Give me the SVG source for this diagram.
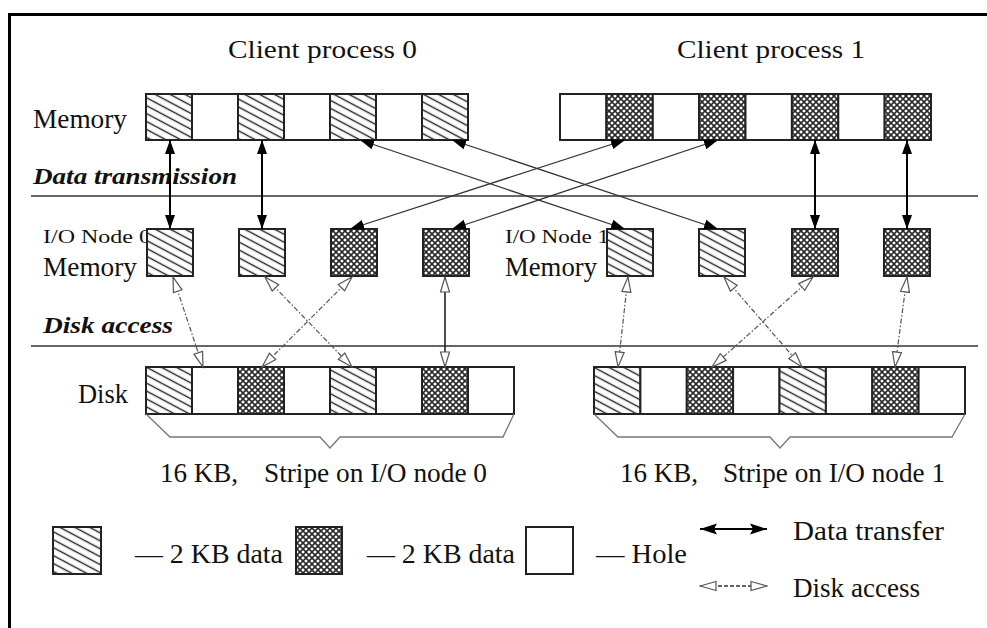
<svg xmlns="http://www.w3.org/2000/svg" width="987" height="628" viewBox="0 0 987 628">
<style>
text{font-family:"Liberation Serif","Times New Roman",serif;fill:#111}
.t24{font-size:25px}.t27{font-size:28px}.t26{font-size:27px}.t18{font-size:19px}
.bi{font-size:24px;font-weight:bold;font-style:italic}
.cell{stroke:#222;stroke-width:2}
.h{fill:url(#hatch)}.x{fill:url(#cross)}.e{fill:#fff}
.dt{stroke:#000;stroke-width:2;fill:none;marker-start:url(#af);marker-end:url(#af)}
.dd{stroke:#333;stroke-width:1.3;fill:none;marker-start:url(#af);marker-end:url(#af)}
.da{stroke:#555;stroke-width:1.2;fill:none;stroke-dasharray:5 2 1.5 2;marker-start:url(#ah);marker-end:url(#ah)}
.das{stroke:#222;stroke-width:1.6;fill:none;marker-start:url(#ah);marker-end:url(#ah)}
.sep{stroke:#333;stroke-width:1.5}
.brace{stroke:#777;stroke-width:1.3;fill:none}
</style>
<defs>
<pattern id="hatch" patternUnits="userSpaceOnUse" width="8" height="7" patternTransform="rotate(28)">
<rect width="8" height="7" fill="#fff"/>
<line x1="0" y1="3.5" x2="8" y2="3.5" stroke="#222" stroke-width="1.4"/>
</pattern>
<pattern id="cross" patternUnits="userSpaceOnUse" width="6" height="6">
<rect width="6" height="6" fill="#fff"/>
<path d="M0,0 L6,6 M6,0 L0,6" stroke="#2a2a2a" stroke-width="1.6"/>
</pattern>
<marker id="af" markerUnits="userSpaceOnUse" viewBox="0 0 15 11" markerWidth="15" markerHeight="11" refX="14" refY="5.5" orient="auto-start-reverse">
<path d="M0,0.5 L14,5.5 L0,10.5 z" fill="#000"/>
</marker>
<marker id="afL" markerUnits="userSpaceOnUse" viewBox="0 0 18 12" markerWidth="18" markerHeight="12" refX="17" refY="6" orient="auto-start-reverse">
<path d="M0,0.5 L17,6 L0,11.5 L3,6 z" fill="#000"/>
</marker>
<marker id="ah" markerUnits="userSpaceOnUse" viewBox="0 0 18 12" markerWidth="18" markerHeight="12" refX="16" refY="6" orient="auto-start-reverse">
<path d="M1,1.5 L16,6 L1,10.5 z" fill="#fff" stroke="#555" stroke-width="1.2"/>
</marker>
<marker id="ahL" markerUnits="userSpaceOnUse" viewBox="0 0 18 12" markerWidth="18" markerHeight="12" refX="17" refY="6" orient="auto-start-reverse">
<path d="M1,1.5 L17,6 L1,10.5 z" fill="#fff" stroke="#555" stroke-width="1.2"/>
</marker>
</defs>

<rect width="987" height="628" fill="#fff"/>
<path d="M8,14.5 H987 M9.5,14 V628" stroke="#000" stroke-width="3" fill="none"/>

<g id="labels">
<text class="t24" x="228" y="58" textLength="189" lengthAdjust="spacingAndGlyphs">Client process 0</text>
<text class="t24" x="677" y="58" textLength="188" lengthAdjust="spacingAndGlyphs">Client process 1</text>
<text class="t27" x="33" y="128" textLength="94" lengthAdjust="spacingAndGlyphs">Memory</text>
<text class="bi" x="33" y="184" textLength="204" lengthAdjust="spacingAndGlyphs">Data transmission</text>
<text class="t18" x="43" y="243" textLength="108" lengthAdjust="spacingAndGlyphs">I/O Node 0</text>
<text class="t27" x="43" y="276" textLength="94" lengthAdjust="spacingAndGlyphs">Memory</text>
<text class="t18" x="505" y="243" textLength="104" lengthAdjust="spacingAndGlyphs">I/O Node 1</text>
<text class="t27" x="505" y="276" textLength="92" lengthAdjust="spacingAndGlyphs">Memory</text>
<text class="bi" x="43" y="333" textLength="130" lengthAdjust="spacingAndGlyphs">Disk access</text>
<text class="t27" x="78" y="403" textLength="50" lengthAdjust="spacingAndGlyphs">Disk</text>
<text class="t26" y="482"><tspan x="160">16 KB,</tspan><tspan x="264" textLength="223" lengthAdjust="spacingAndGlyphs">Stripe on I/O node 0</tspan></text>
<text class="t26" y="482"><tspan x="620">16 KB,</tspan><tspan x="723" textLength="222" lengthAdjust="spacingAndGlyphs">Stripe on I/O node 1</tspan></text>
</g>

<g id="separators">
<line class="sep" x1="31" y1="196" x2="978" y2="196"/>
<line class="sep" x1="31" y1="346" x2="978" y2="346"/>
</g>

<g id="client0-memory">
<rect class="cell h" x="146" y="94" width="46" height="46"/>
<rect class="cell e" x="192" y="94" width="46" height="46"/>
<rect class="cell h" x="238" y="94" width="46" height="46"/>
<rect class="cell e" x="284" y="94" width="46" height="46"/>
<rect class="cell h" x="330" y="94" width="46" height="46"/>
<rect class="cell e" x="376" y="94" width="46" height="46"/>
<rect class="cell h" x="422" y="94" width="46" height="46"/>
</g>

<g id="client1-memory">
<rect class="cell e" x="560" y="94" width="46.4" height="46"/>
<rect class="cell x" x="606.4" y="94" width="46.4" height="46"/>
<rect class="cell e" x="652.8" y="94" width="46.4" height="46"/>
<rect class="cell x" x="699.1" y="94" width="46.4" height="46"/>
<rect class="cell e" x="745.5" y="94" width="46.4" height="46"/>
<rect class="cell x" x="791.9" y="94" width="46.4" height="46"/>
<rect class="cell e" x="838.3" y="94" width="46.4" height="46"/>
<rect class="cell x" x="884.6" y="94" width="46.4" height="46"/>
</g>

<g id="io0-memory">
<rect class="cell h" x="147" y="229" width="46" height="47"/>
<rect class="cell h" x="239" y="229" width="46" height="47"/>
<rect class="cell x" x="331" y="229" width="46" height="47"/>
<rect class="cell x" x="423" y="229" width="46" height="47"/>
</g>

<g id="io1-memory">
<rect class="cell h" x="607" y="229" width="46" height="47"/>
<rect class="cell h" x="699" y="229" width="46" height="47"/>
<rect class="cell x" x="792" y="229" width="46" height="47"/>
<rect class="cell x" x="884" y="229" width="46" height="47"/>
</g>

<g id="disk0">
<rect class="cell h" x="146" y="367" width="46" height="47"/>
<rect class="cell e" x="192" y="367" width="46" height="47"/>
<rect class="cell x" x="238" y="367" width="46" height="47"/>
<rect class="cell e" x="284" y="367" width="46" height="47"/>
<rect class="cell h" x="330" y="367" width="46" height="47"/>
<rect class="cell e" x="376" y="367" width="46" height="47"/>
<rect class="cell x" x="422" y="367" width="46" height="47"/>
<rect class="cell e" x="468" y="367" width="46" height="47"/>
<polyline class="brace" points="146,414 170,437 320,437 330,448 340,437 503,437 514,414"/>
</g>

<g id="disk1">
<rect class="cell h" x="594" y="367" width="46.4" height="47"/>
<rect class="cell e" x="640.4" y="367" width="46.4" height="47"/>
<rect class="cell x" x="686.8" y="367" width="46.4" height="47"/>
<rect class="cell e" x="733.1" y="367" width="46.4" height="47"/>
<rect class="cell h" x="779.5" y="367" width="46.4" height="47"/>
<rect class="cell e" x="825.9" y="367" width="46.4" height="47"/>
<rect class="cell x" x="872.3" y="367" width="46.4" height="47"/>
<rect class="cell e" x="918.6" y="367" width="46.4" height="47"/>
<polyline class="brace" points="594,414 618,437 770,437 780,448 790,437 952,437 965,414"/>
</g>

<g id="connectors">
<path class="dt" d="M170,140 V229"/>
<path class="dt" d="M262,140 V229"/>
<path class="dt" d="M815,140 V229"/>
<path class="dt" d="M907,140 V229"/>
<path class="dd" d="M360,140 L625,229"/>
<path class="dd" d="M452,140 L718,229"/>
<path class="dd" d="M625,140 L350,229"/>
<path class="dd" d="M718,140 L452,229"/>
<path class="da" d="M173,277 L203,367"/>
<path class="da" d="M265,277 L352,367"/>
<path class="da" d="M352,277 L262,367"/>
<path class="das" d="M445,277 V367"/>
<path class="da" d="M628,277 L618,367"/>
<path class="da" d="M724,277 L802,367"/>
<path class="da" d="M813,277 L712,367"/>
<path class="da" d="M907,277 L895,367"/>
</g>

<g id="legend">
<rect class="cell h" x="53" y="527" width="48" height="47"/>
<text class="t26" x="135" y="563" textLength="148" lengthAdjust="spacingAndGlyphs">–– 2 KB data</text>
<rect class="cell x" x="296" y="527" width="46" height="47"/>
<text class="t26" x="367" y="563" textLength="148" lengthAdjust="spacingAndGlyphs">–– 2 KB data</text>
<rect class="cell e" x="526" y="527" width="47" height="47"/>
<text class="t26" x="596" y="563" textLength="91" lengthAdjust="spacingAndGlyphs">–– Hole</text>
<path d="M700,529 H767" stroke="#000" stroke-width="2" marker-start="url(#afL)" marker-end="url(#afL)"/>
<text class="t26" x="793" y="540" textLength="151" lengthAdjust="spacingAndGlyphs">Data  transfer</text>
<path d="M700,586 H767" stroke="#333" stroke-width="1.5" stroke-dasharray="4 2" marker-start="url(#ahL)" marker-end="url(#ahL)"/>
<text class="t26" x="793" y="597" textLength="127" lengthAdjust="spacingAndGlyphs">Disk access</text>
</g>
</svg>
